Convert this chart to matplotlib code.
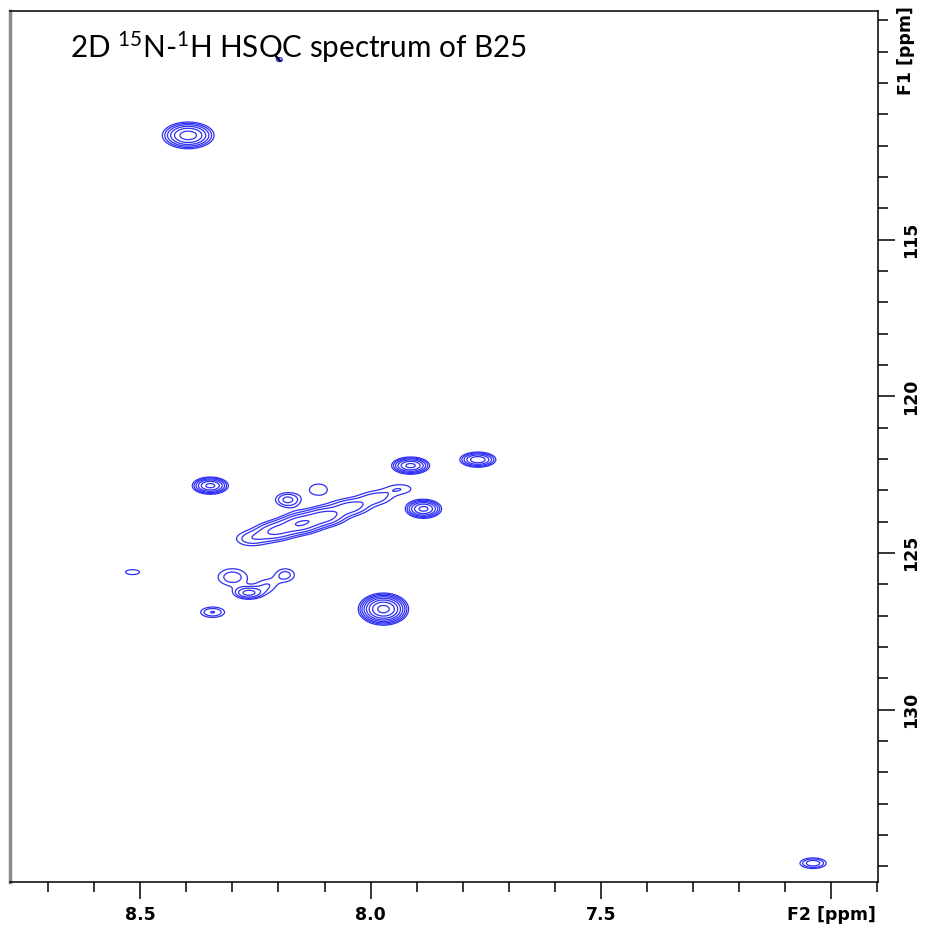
import numpy as np
import matplotlib
matplotlib.use("Agg")
import matplotlib.pyplot as plt

plt.rcParams['mathtext.fontset'] = 'custom'
plt.rcParams['mathtext.rm'] = 'Lato'

# peak list: 1H shift, 15N shift, height, widths (sigma, ppm)
peak_h = [8.396, 8.198, 8.348, 7.913, 7.767, 7.885, 7.972, 8.180, 8.113, 8.343, 8.517, 7.039,
          8.300, 8.265, 8.225, 8.185,
          8.261, 8.207, 8.152, 8.098, 8.043, 7.989, 7.935]
peak_n = [111.67, 109.25, 122.85, 122.21, 122.02, 123.59, 126.79, 123.30, 122.97, 126.89, 125.61, 134.90,
          125.77, 126.28, 126.05, 125.70,
          124.55, 124.30, 124.06, 123.83, 123.53, 123.24, 122.95]
peak_amp = [6.5, 1.1, 6.0, 6.0, 5.0, 6.0, 12.0, 2.2, 1.35, 2.0, 1.2, 2.5,
            1.7, 3.0, 1.3, 1.6,
            1.6, 2.6, 3.4, 3.0, 2.2, 1.6, 1.3]
peak_sh = [0.029, 0.015, 0.0207, 0.0218, 0.0218, 0.0207, 0.0245, 0.021, 0.024, 0.022, 0.025, 0.021,
           0.030, 0.0205, 0.020, 0.020,
           0.030, 0.030, 0.030, 0.030, 0.030, 0.030, 0.030]
peak_sn = [0.22, 0.146, 0.145, 0.145, 0.135, 0.16, 0.23, 0.178, 0.22, 0.14, 0.13, 0.125,
           0.26, 0.13, 0.20, 0.20,
           0.21, 0.22, 0.22, 0.21, 0.20, 0.19, 0.17]

f2_lim = (8.783, 6.898)
f1_lim = (135.5, 107.7)

base_level = 1.0
level_factor = 1.4
n_levels = 14


def spectrum(h, n):
    z = np.zeros_like(h)
    for ph, pn, a, sh, sn in zip(peak_h, peak_n, peak_amp, peak_sh, peak_sn):
        z += a * np.exp(-((h - ph) ** 2) / (2 * sh ** 2) - ((n - pn) ** 2) / (2 * sn ** 2))
    return z


h_axis = np.linspace(f2_lim[1], f2_lim[0], 1400)
n_axis = np.linspace(f1_lim[1], f1_lim[0], 1200)
H, N = np.meshgrid(h_axis, n_axis)
Z = spectrum(H, N)
levels = base_level * level_factor ** np.arange(n_levels)

fig = plt.figure(figsize=(9.25, 9.26), dpi=100)
ax = fig.add_axes([10 / 925, 1 - 882 / 926, 868 / 925, 871 / 926])
ax.contour(H, N, Z, levels=levels, colors='#2f2ff5', linewidths=0.9)

ax.set_xlim(*f2_lim)
ax.set_ylim(*f1_lim)

# axes like the TopSpin plot: ticks on bottom and right only
ax.yaxis.tick_right()
ax.set_xticks([8.5, 8.0, 7.5, 7.0])
ax.set_xticklabels(['8.5', '8.0', '7.5', 'F2 [ppm]'])
ax.set_xticks(np.arange(6.9, 8.75, 0.1), minor=True)
ax.set_yticks([115, 120, 125, 130])
ax.set_yticklabels(['115', '120', '125', '130'], rotation=90, va='center')
ax.set_yticks(np.arange(108, 136, 1), minor=True)
ax.tick_params(which='major', length=12, width=1.1, color='black', labelsize=12.5, pad=5)
ax.tick_params(which='minor', length=7, width=1.1, color='black')
for lab in ax.get_xticklabels() + ax.get_yticklabels():
    lab.set_fontweight('bold')

for side in ['top', 'right', 'bottom']:
    ax.spines[side].set_color('black')
    ax.spines[side].set_linewidth(1.1)
ax.spines['left'].set_color('#8a8a8a')
ax.spines['left'].set_linewidth(2.5)

ax.text(1.032, 0.955, 'F1 [ppm]', transform=ax.transAxes, rotation=90,
        ha='center', va='center', fontsize=12.5, fontweight='bold')

fig.text(70 / 925, 1 - 47 / 926, r'2D $\mathregular{^{15}}$N-$\mathregular{^{1}}$H HSQC spectrum of B25',
         fontsize=21.3, family='Lato', va='center', ha='left')

fig.savefig('out.png', dpi=100)
